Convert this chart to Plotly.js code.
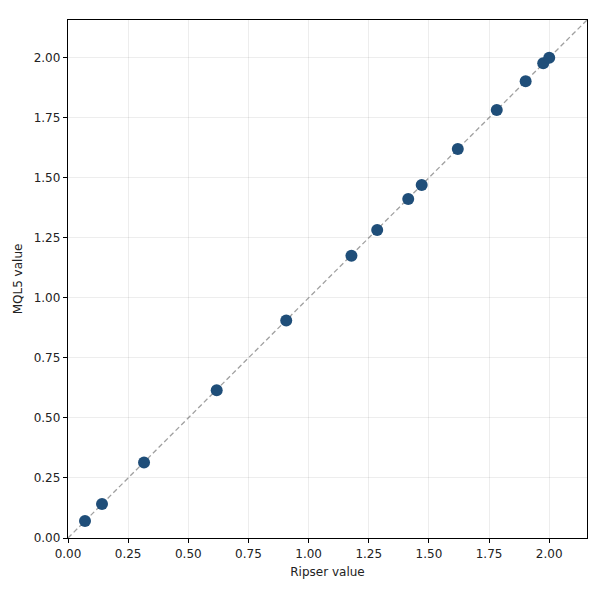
<!DOCTYPE html>
<html><head><meta charset="utf-8">
<script src="https://cdn.plot.ly/plotly-3.0.1.min.js"></script>
<style>body{margin:0;padding:0;background:#fff}#chart{width:600px;height:600px}</style>
</head><body><div id="chart"></div>
<script>
const ripserValues = [0.0707, 0.1414, 0.316, 0.618, 0.907, 1.178, 1.285, 1.414, 1.47, 1.62, 1.782, 1.902, 1.975, 2.0];
const mql5Values   = [0.0707, 0.1414, 0.314, 0.615, 0.906, 1.175, 1.283, 1.412, 1.47, 1.62, 1.782, 1.902, 1.977, 2.0];
const refLine = [0, 2.16];
const tickVals = [0, 0.25, 0.5, 0.75, 1.0, 1.25, 1.5, 1.75, 2.0];
const tickText = ["0.00","0.25","0.50","0.75","1.00","1.25","1.50","1.75","2.00"];
const axisRange = [0, 2.157];

const traces = [
  {x: refLine, y: refLine, mode: 'lines', line: {color: 'rgba(128,128,128,0.75)', width: 1.3, dash: '5px,3px'}, hoverinfo: 'skip', showlegend: false},
  {x: ripserValues, y: mql5Values, mode: 'markers', marker: {color: '#1f4e79', size: 12}, showlegend: false}
];
const axisCommon = {
  range: axisRange, tickvals: tickVals, ticktext: tickText,
  showgrid: true, gridcolor: 'rgba(0,0,0,0.07)', gridwidth: 1,
  zeroline: false, showline: true, linecolor: '#000', linewidth: 1.2, mirror: true,
  ticks: 'outside', ticklen: 4, tickcolor: '#000', tickwidth: 1,
  tickfont: {family: 'DejaVu Sans', size: 12, color: '#222'}
};
const layout = {
  width: 600, height: 600,
  margin: {l: 68, r: 13, t: 20, b: 62},
  paper_bgcolor: '#fff', plot_bgcolor: '#fff',
  font: {family: 'DejaVu Sans', size: 12, color: '#222'},
  xaxis: Object.assign({}, axisCommon, {title: {text: 'Ripser value', font: {size: 12}, standoff: 8}}),
  yaxis: Object.assign({}, axisCommon, {title: {text: 'MQL5 value', font: {size: 12}, standoff: 8}})
};
Plotly.newPlot('chart', traces, layout, {staticPlot: true});
</script></body></html>
